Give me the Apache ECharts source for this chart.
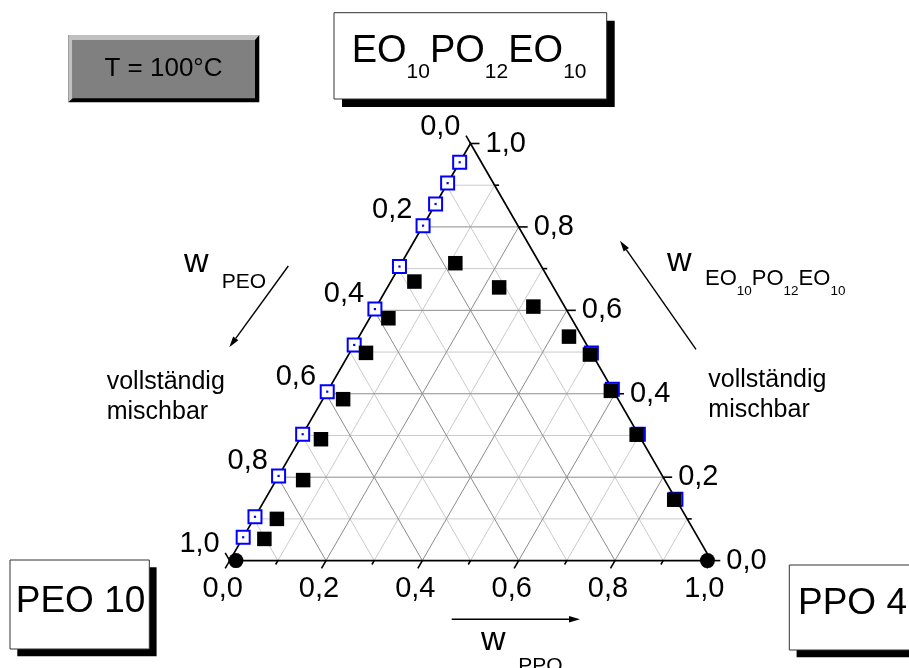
<!DOCTYPE html>
<html>
<head>
<meta charset="utf-8">
<script src="https://cdn.jsdelivr.net/npm/echarts@6/dist/echarts.min.js"></script>
<style>
  html, body { margin: 0; padding: 0; background: #ffffff; }
  #chart { width: 909px; height: 668px; }
</style>
</head>
<body>
<div id="chart"></div>
<script>
// Ternary phase diagram PEO 10 / PPO 4 / EO10PO12EO10 at 100 °C.
// Every composition is a triple [w_PEO, w_PPO, w_EO10PO12EO10].

const majorTicks = [0, 0.2, 0.4, 0.6, 0.8, 1.0];
const minorTicks = [0.1, 0.3, 0.5, 0.7, 0.9];
const tickLabels = ['0,0', '0,2', '0,4', '0,6', '0,8', '1,0'];

// open squares on the PEO / EO10PO12EO10 binary edge
const boundaryPeoSide = [
  [0.045, 0, 0.955], [0.095, 0, 0.905], [0.145, 0, 0.855], [0.197, 0, 0.803],
  [0.295, 0, 0.705], [0.397, 0, 0.603], [0.483, 0, 0.517], [0.595, 0, 0.405],
  [0.697, 0, 0.303], [0.797, 0, 0.203], [0.895, 0, 0.105], [0.944, 0, 0.056]
];
// filled squares next to the PEO side
const cloudPeoSide = [
  [0.175, 0.112, 0.713], [0.282, 0.049, 0.669], [0.380, 0.039, 0.581],
  [0.468, 0.034, 0.498], [0.570, 0.042, 0.387], [0.666, 0.044, 0.291],
  [0.751, 0.056, 0.193], [0.852, 0.048, 0.100], [0.902, 0.046, 0.052]
];
// open squares on the PPO / EO10PO12EO10 binary edge
const boundaryPpoSide = [
  [0, 0.502, 0.498], [0, 0.589, 0.411], [0, 0.697, 0.303], [0, 0.853, 0.147]
];
// filled squares next to the PPO side
const cloudPpoSide = [
  [0.113, 0.232, 0.655], [0.065, 0.326, 0.609], [0.027, 0.436, 0.537],
  [0.005, 0.501, 0.494], [0.005, 0.588, 0.407], [0.004, 0.694, 0.302],
  [0.004, 0.850, 0.146]
];
// pure homopolymers
const homopolymers = [[0.987, 0.013, 0], [0.008, 0.992, 0]];

const FONT = '"Liberation Sans", Arial, Helvetica, sans-serif';
const SQ = Math.sqrt(3) / 2;

// ternary composition -> cartesian (x, y) in the unit triangle
function toXY(c) {
  return [c[1] + c[2] / 2, c[2] * SQ];
}
const toXYList = list => list.map(toXY);

function txt(x, y, text, size, align, extra) {
  const font = size + 'px ' + FONT;
  return Object.assign({
    type: 'text', x: x, y: y,
    style: {
      text: text, font: font, fill: '#000',
      align: align || 'left', verticalAlign: 'middle',
      textAlign: align || 'left', textVerticalAlign: 'middle'
    }
  }, extra || {});
}

// text with subscripts; parts = [[string, isSub], ...], baseline positions given
const measureCtx = document.createElement('canvas').getContext('2d');
function subscripted(x, baseline, parts, mainSize, subSize, subDrop) {
  const out = [];
  let cx = x;
  parts.forEach(function (p) {
    const size = p[1] ? subSize : mainSize;
    measureCtx.font = size + 'px ' + FONT;
    const w = measureCtx.measureText(p[0]).width;
    const base = p[1] ? baseline + subDrop : baseline;
    out.push(txt(cx, base - 0.35 * size, p[0], size, 'left'));
    cx += w;
  });
  return out;
}

function arrow(x1, y1, x2, y2) {
  const dx = x2 - x1, dy = y2 - y1, L = Math.hypot(dx, dy);
  const ux = dx / L, uy = dy / L, hl = 11, hw = 3.2;
  const bx = x2 - ux * hl, by = y2 - uy * hl;
  return [
    { type: 'line', shape: { x1: x1, y1: y1, x2: bx, y2: by }, style: { stroke: '#000', lineWidth: 1.4 } },
    { type: 'polygon', shape: { points: [[x2, y2], [bx - uy * hw, by + ux * hw], [bx + uy * hw, by - ux * hw]] }, style: { fill: '#000' } }
  ];
}

function shadowBox(x, y, w, h, off) {
  return [
    { type: 'rect', shape: { x: x + off, y: y + off, width: w, height: h }, style: { fill: '#000' } },
    { type: 'rect', shape: { x: x, y: y, width: w, height: h }, style: { fill: '#fff', stroke: '#333', lineWidth: 1 } }
  ];
}

const eoParts = [['EO', false], ['10', true], ['PO', false], ['12', true], ['EO', false], ['10', true]];

const graphics = [].concat(
  // temperature button
  [
    { type: 'rect', shape: { x: 68.3, y: 35, width: 191, height: 67.3 }, style: { fill: '#000' } },
    { type: 'polygon', shape: { points: [[68.3, 35], [259.3, 35], [255, 40], [72.7, 40], [72.7, 98.3], [68.3, 102.3]] }, style: { fill: '#c0c0c0' } },
    { type: 'rect', shape: { x: 72.7, y: 40, width: 182.3, height: 58.3 }, style: { fill: '#808080' } },
    txt(163.5, 69, 'T = 100°C', 26, 'center')
  ],
  shadowBox(334, 12.7, 272.7, 86.3, 8),
  subscripted(351.7, 65, eoParts, 38, 21, 15),
  shadowBox(10, 560, 139.3, 89, 7.3),
  [txt(80.5, 602, 'PEO 10', 37, 'center')],
  shadowBox(789.3, 565, 130, 85, 7.3),
  [txt(798, 603.8, 'PPO 4', 37, 'left')],
  // axis titles with direction arrows
  [txt(184, 263, 'w', 34, 'left'), txt(221.7, 282.6, 'PEO', 21, 'left')],
  arrow(288.3, 266, 229.3, 347.3),
  [txt(667, 262, 'w', 34, 'left')],
  subscripted(705, 287, eoParts, 22, 13.5, 9),
  arrow(696, 349.3, 620, 240.7),
  [txt(481, 641, 'w', 34, 'left'), txt(518.3, 666, 'PPO', 21, 'left')],
  arrow(451.7, 619.3, 580, 619.3),
  // miscibility notes
  [
    txt(106.7, 382, 'vollständig', 25, 'left'), txt(106.7, 412, 'mischbar', 25, 'left'),
    txt(708.3, 380, 'vollständig', 25, 'left'), txt(708.3, 410, 'mischbar', 25, 'left')
  ]
);

// grid lines: one datum per level, three families per level
const gridData = [];
minorTicks.forEach(v => gridData.push([v, 0]));
majorTicks.forEach(v => { if (v > 0 && v < 1) gridData.push([v, 1]); });

function renderGrid(params, api) {
  const v = api.value(0), major = api.value(1) === 1;
  const segs = [
    [[1 - v, 0, v], [0, 1 - v, v]],   // constant EO10PO12EO10
    [[1 - v, v, 0], [0, v, 1 - v]],   // constant PPO
    [[v, 1 - v, 0], [v, 0, 1 - v]]    // constant PEO
  ];
  return {
    type: 'group',
    children: segs.map(s => {
      const a = api.coord(toXY(s[0])), b = api.coord(toXY(s[1]));
      return {
        type: 'line',
        shape: { x1: a[0], y1: a[1], x2: b[0], y2: b[1] },
        style: { stroke: major ? '#8c8c8c' : '#cbcbcb', lineWidth: 1 }
      };
    })
  };
}

function renderFrame(params, api) {
  const pts = [[1, 0, 0], [0, 1, 0], [0, 0, 1]].map(c => api.coord(toXY(c)));
  return {
    type: 'polygon',
    shape: { points: pts },
    style: { fill: 'none', stroke: '#000', lineWidth: 1.7 }
  };
}

// ticks: [value, axis (0 bottom PPO, 1 left PEO, 2 right EO), label index or -1]
const tickData = [];
[0, 1, 2].forEach(axis => {
  majorTicks.forEach((v, i) => tickData.push([v, axis, i]));
  minorTicks.forEach(v => tickData.push([v, axis, -1]));
});

function renderTick(params, api) {
  const v = api.value(0), axis = api.value(1), li = api.value(2);
  const major = li >= 0;
  let comp, dir, lab, align;
  if (axis === 0) {
    comp = [1 - v, v, 0]; dir = [-0.5, SQ]; lab = [-7, 28]; align = 'center';
  } else if (axis === 1) {
    comp = [v, 0, 1 - v]; dir = [-0.5, -SQ]; lab = [-10, -16.5]; align = 'right';
  } else {
    comp = [0, 1 - v, v]; dir = [1, 0]; lab = [15, 0]; align = 'left';
  }
  const p = api.coord(toXY(comp));
  const len = major ? 9 : 4.5;
  const children = [{
    type: 'line',
    shape: { x1: p[0], y1: p[1], x2: p[0] + dir[0] * len, y2: p[1] + dir[1] * len },
    style: { stroke: '#000', lineWidth: 1.6 }
  }];
  if (major) children.push(txt(p[0] + lab[0], p[1] + lab[1], tickLabels[li], 29, align));
  return { type: 'group', children: children };
}

const chart = echarts.init(document.getElementById('chart'), null, { renderer: 'canvas' });
chart.setOption({
  animation: false,
  backgroundColor: '#ffffff',
  grid: { left: 229.7, top: 143.5, width: 481.6, height: 417.1, containLabel: false },
  xAxis: { type: 'value', min: 0, max: 1, show: false },
  yAxis: { type: 'value', min: 0, max: SQ, show: false },
  graphic: { elements: graphics },
  series: [
    { type: 'custom', renderItem: renderGrid, data: gridData, z: 1, silent: true },
    { type: 'custom', renderItem: renderFrame, data: [[0, 0]], z: 2, silent: true },
    { type: 'custom', renderItem: renderTick, data: tickData, z: 2, silent: true },
    {
      type: 'scatter', data: toXYList(boundaryPeoSide.concat(boundaryPpoSide)), z: 3, silent: true,
      symbol: 'rect', symbolSize: 13,
      itemStyle: { color: '#ffffff', borderColor: '#0000ff', borderWidth: 2, opacity: 1 }
    },
    {
      type: 'scatter', data: toXYList(boundaryPeoSide.concat(boundaryPpoSide)), z: 4, silent: true,
      symbol: 'rect', symbolSize: 2.2, itemStyle: { color: '#0000ff', opacity: 1 }
    },
    {
      type: 'scatter', data: toXYList(cloudPeoSide.concat(cloudPpoSide)), z: 5, silent: true,
      symbol: 'rect', symbolSize: 14.5, itemStyle: { color: '#000000', opacity: 1 }
    },
    {
      type: 'scatter', data: toXYList(homopolymers), z: 6, silent: true,
      symbol: 'circle', symbolSize: 15, itemStyle: { color: '#000000', opacity: 1 }
    }
  ]
});
</script>
</body>
</html>
